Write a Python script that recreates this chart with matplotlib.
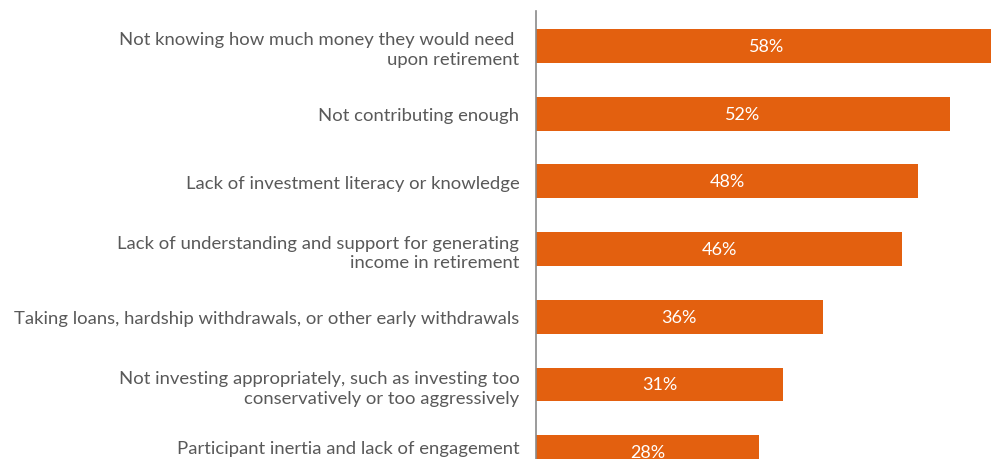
import matplotlib.pyplot as plt
import matplotlib.transforms as mtransforms

# Survey results: barriers to retirement readiness
categories = [
    "Not knowing how much money they would need \nupon retirement",
    "Not contributing enough",
    "Lack of investment literacy or knowledge",
    "Lack of understanding and support for generating\nincome in retirement",
    "Taking loans, hardship withdrawals, or other early withdrawals",
    "Not investing appropriately, such as investing too\nconservatively or too aggressively",
    "Participant inertia and lack of engagement",
]
values = [58, 52, 48, 46, 36, 31, 28]

plt.rcParams['font.family'] = ['Lato', 'DejaVu Sans']

fig = plt.figure(figsize=(9.91, 4.60), dpi=100)
ax = fig.add_axes([536 / 991, 0, 1 - 536 / 991, 448 / 460])

pos = list(range(len(categories)))
ax.barh(pos, values, height=0.5, color='#E3600F')

for y, v in zip(pos, values):
    ax.text(v / 2, y, f"{v}%", ha='center', va='center', color='white', fontsize=13)

ax.set_xlim(0, 455 / 7.96)
ax.set_ylim(6.1, -0.5 - 1 / 68)

ax.set_yticks(pos)
ax.set_yticklabels(categories, fontsize=13.3, color='#595959', ha='right', linespacing=1.3)
ax.tick_params(axis='y', length=0, pad=12)
ax.set_xticks([])

# lift the bottom label so it stays inside the figure
last = ax.get_yticklabels()[-1]
last.set_transform(last.get_transform() + mtransforms.ScaledTranslation(0, 6 / 100, fig.dpi_scale_trans))

for side in ['top', 'right', 'bottom']:
    ax.spines[side].set_visible(False)
ax.spines['left'].set_color('#8a8a8a')
ax.spines['left'].set_linewidth(1.2)

fig.savefig('out.png', dpi=100)
